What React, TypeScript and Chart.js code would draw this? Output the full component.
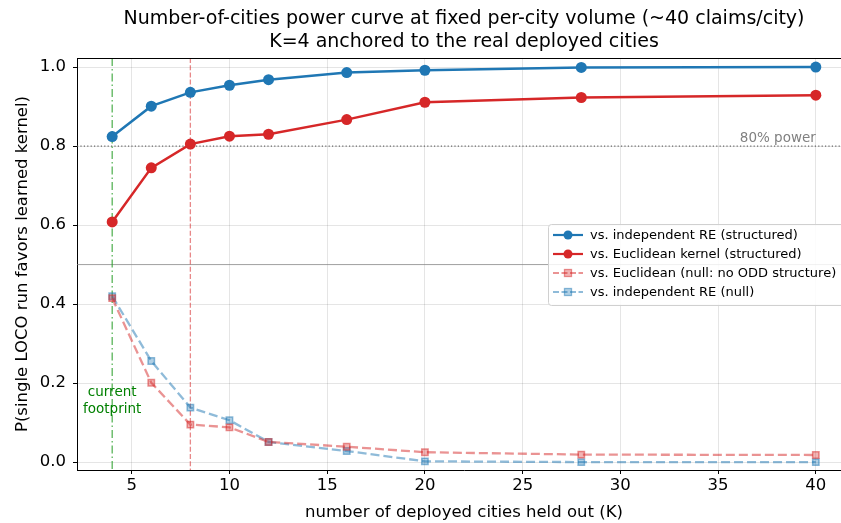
import React, { useEffect, useRef } from "react";
import { Chart, registerables } from "chart.js";

Chart.register(...registerables);

const kValues = [4, 6, 8, 10, 12, 16, 20, 28, 40];
const indepStructured = [0.824, 0.901, 0.936, 0.954, 0.968, 0.986, 0.992, 0.999, 1.0];
const euclidStructured = [0.608, 0.745, 0.805, 0.825, 0.830, 0.867, 0.911, 0.923, 0.929];
const euclidNull = [0.415, 0.201, 0.095, 0.088, 0.051, 0.039, 0.025, 0.019, 0.018];
const indepNull = [0.420, 0.256, 0.138, 0.106, 0.051, 0.028, 0.002, 0.0, 0.0];

const xTicks = [5, 10, 15, 20, 25, 30, 35, 40];
const yTicks = [0.0, 0.2, 0.4, 0.6, 0.8, 1.0];
const yTickLabels = ["0.0", "0.2", "0.4", "0.6", "0.8", "1.0"];

const titleLines = [
  "Number-of-cities power curve at fixed per-city volume (~40 claims/city)",
  "K=4 anchored to the real deployed cities",
];
const legendLabels = [
  "vs. independent RE (structured)",
  "vs. Euclidean kernel (structured)",
  "vs. Euclidean (null: no ODD structure)",
  "vs. independent RE (null)",
];

const BLUE = "#1f77b4";
const RED = "#d62728";
const BLUE_A = "rgba(31,119,180,0.5)";
const RED_A = "rgba(214,39,40,0.5)";
const BLUE_F = "rgba(31,119,180,0.35)";
const RED_F = "rgba(214,39,40,0.35)";
const FONT = "'DejaVu Sans', sans-serif";

const CW = 857;
const CH = 523;

const toPts = (ys: number[]) => kValues.map((x, i) => ({ x, y: ys[i] }));

export default function App() {
  const ref = useRef<HTMLCanvasElement | null>(null);

  useEffect(() => {
    const canvas = ref.current;
    if (!canvas) return;

    const overlay = {
      id: "overlay",
      beforeDatasetsDraw(chart: any) {
        const { ctx, chartArea, scales } = chart;
        const xs = scales.x;
        const ys = scales.y;
        ctx.save();
        ctx.beginPath();
        ctx.rect(chartArea.left, chartArea.top, chartArea.right - chartArea.left, chartArea.bottom - chartArea.top);
        ctx.clip();
        // 0.8 dotted
        ctx.strokeStyle = "rgba(90,90,90,0.9)";
        ctx.lineWidth = 1.2;
        ctx.setLineDash([1.2, 2.2]);
        let y = ys.getPixelForValue(0.8);
        ctx.beginPath();
        ctx.moveTo(chartArea.left, y);
        ctx.lineTo(chartArea.right, y);
        ctx.stroke();
        // 0.5 solid
        ctx.setLineDash([]);
        ctx.lineWidth = 1;
        ctx.strokeStyle = "rgba(128,128,128,0.75)";
        y = ys.getPixelForValue(0.5);
        ctx.beginPath();
        ctx.moveTo(chartArea.left, y);
        ctx.lineTo(chartArea.right, y);
        ctx.stroke();
        // vertical green dashdot at 4
        ctx.strokeStyle = "rgba(44,160,44,0.85)";
        ctx.lineWidth = 1.2;
        ctx.setLineDash([8, 3, 1.5, 3]);
        let x = xs.getPixelForValue(4);
        ctx.beginPath();
        ctx.moveTo(x, chartArea.top);
        ctx.lineTo(x, chartArea.bottom);
        ctx.stroke();
        // vertical red dashed at 8
        ctx.strokeStyle = "rgba(214,39,40,0.55)";
        ctx.lineWidth = 1.3;
        ctx.setLineDash([5, 2.2]);
        x = xs.getPixelForValue(8);
        ctx.beginPath();
        ctx.moveTo(x, chartArea.top);
        ctx.lineTo(x, chartArea.bottom);
        ctx.stroke();
        ctx.setLineDash([]);
        ctx.restore();

        // annotations
        ctx.save();
        ctx.font = `13.5px ${FONT}`;
        ctx.fillStyle = "#808080";
        ctx.textAlign = "right";
        ctx.textBaseline = "bottom";
        ctx.fillText("80% power", xs.getPixelForValue(40), ys.getPixelForValue(0.8) - 1);
        ctx.fillStyle = "green";
        ctx.textAlign = "center";
        ctx.textBaseline = "middle";
        const cx = xs.getPixelForValue(4);
        ctx.fillText("current", cx, ys.getPixelForValue(0.176));
        ctx.fillText("footprint", cx, ys.getPixelForValue(0.133));
        ctx.restore();
      },
      afterDraw(chart: any) {
        const { ctx, chartArea } = chart;
        ctx.save();
        // top spine
        ctx.strokeStyle = "#000";
        ctx.lineWidth = 1;
        ctx.beginPath();
        ctx.moveTo(chartArea.left, chartArea.top + 0.5);
        ctx.lineTo(chartArea.right, chartArea.top + 0.5);
        ctx.stroke();
        ctx.beginPath();
        ctx.moveTo(chartArea.right - 0.5, chartArea.top);
        ctx.lineTo(chartArea.right - 0.5, chartArea.bottom);
        ctx.stroke();

        // title
        ctx.fillStyle = "#000";
        ctx.font = `19px ${FONT}`;
        ctx.textAlign = "center";
        ctx.textBaseline = "middle";
        ctx.fillText(titleLines[0], 464, 19);
        ctx.fillText(titleLines[1], 464, 42);

        // legend
        const lx = 548.5, ly = 224.5, lw = 300, lh = 81;
        ctx.fillStyle = "rgba(255,255,255,0.85)";
        ctx.strokeStyle = "#d0d0d0";
        ctx.beginPath();
        (ctx as any).roundRect(lx, ly, lw, lh, 3);
        ctx.fill();
        ctx.stroke();
        const rows = [235, 254, 273, 292];
        const styles = [
          { c: BLUE, dash: [] as number[], sq: false, f: BLUE },
          { c: RED, dash: [] as number[], sq: false, f: RED },
          { c: RED_A, dash: [6, 2.5], sq: true, f: RED_F },
          { c: BLUE_A, dash: [6, 2.5], sq: true, f: BLUE_F },
        ];
        ctx.font = `13px ${FONT}`;
        ctx.textAlign = "left";
        rows.forEach((ry, i) => {
          const s = styles[i];
          ctx.strokeStyle = s.c;
          ctx.lineWidth = 2.2;
          ctx.setLineDash(s.dash);
          ctx.beginPath();
          ctx.moveTo(553, ry);
          ctx.lineTo(583, ry);
          ctx.stroke();
          ctx.setLineDash([]);
          if (s.sq) {
            ctx.fillStyle = s.f;
            ctx.fillRect(564.5, ry - 3.5, 7, 7);
            ctx.lineWidth = 1.3;
            ctx.strokeStyle = s.c;
            ctx.strokeRect(564.5, ry - 3.5, 7, 7);
          } else {
            ctx.fillStyle = s.c;
            ctx.beginPath();
            ctx.arc(568, ry, 4.5, 0, Math.PI * 2);
            ctx.fill();
          }
          ctx.fillStyle = "#000";
          ctx.textBaseline = "middle";
          ctx.fillText(legendLabels[i], 590, ry + 0.5);
        });
        ctx.restore();
      },
    };

    const chart = new Chart(canvas, {
      type: "line",
      data: {
        datasets: [
          {
            label: legendLabels[0],
            data: toPts(indepStructured),
            borderColor: BLUE,
            backgroundColor: BLUE,
            borderWidth: 2.5,
            pointRadius: 5.5,
            pointHoverRadius: 5.5,
            pointStyle: "circle",
            pointBorderWidth: 0,
          },
          {
            label: legendLabels[1],
            data: toPts(euclidStructured),
            borderColor: RED,
            backgroundColor: RED,
            borderWidth: 2.5,
            pointRadius: 5.5,
            pointHoverRadius: 5.5,
            pointStyle: "circle",
            pointBorderWidth: 0,
          },
          {
            label: legendLabels[2],
            data: toPts(euclidNull),
            borderColor: RED_A,
            backgroundColor: RED_F,
            pointBorderColor: RED_A,
            borderWidth: 2.3,
            borderDash: [9, 4],
            pointRadius: 4.5,
            pointStyle: "rect",
            pointBorderWidth: 1.5,
          },
          {
            label: legendLabels[3],
            data: toPts(indepNull),
            borderColor: BLUE_A,
            backgroundColor: BLUE_F,
            pointBorderColor: BLUE_A,
            borderWidth: 2.3,
            borderDash: [9, 4],
            pointRadius: 4.5,
            pointStyle: "rect",
            pointBorderWidth: 1.5,
          },
        ],
      },
      options: {
        animation: false,
        responsive: false,
        maintainAspectRatio: false,
        layout: { padding: { top: 58, right: 0, left: 0, bottom: 0 } },
        plugins: {
          legend: { display: false },
          title: { display: false },
          tooltip: { enabled: false },
        },
        scales: {
          x: {
            type: "linear",
            min: 2.2,
            max: 41.8,
            afterBuildTicks: (s: any) => {
              s.ticks = xTicks.map((v) => ({ value: v }));
            },
            afterFit: (s: any) => {
              s.height = 53;
              s.paddingRight = 0;
            },
            ticks: {
              color: "#000",
              font: { family: FONT, size: 16.5 },
              padding: 2,
              maxRotation: 0,
              callback: (v: any) => String(v),
            },
            grid: {
              color: "rgba(0,0,0,0.1)",
              tickColor: "#000",
              tickLength: 4,
              drawOnChartArea: true,
            },
            border: { display: true, color: "#000", width: 1 },
            title: {
              display: true,
              text: "number of deployed cities held out (K)",
              color: "#000",
              font: { family: FONT, size: 16.5 },
              padding: { top: 2, bottom: 0 },
            },
          },
          y: {
            type: "linear",
            min: -0.02,
            max: 1.023,
            afterBuildTicks: (s: any) => {
              s.ticks = yTicks.map((v) => ({ value: v }));
            },
            afterFit: (s: any) => {
              s.width = 77;
            },
            ticks: {
              color: "#000",
              font: { family: FONT, size: 16.5 },
              padding: 7,
              callback: (v: any) => {
                const i = yTicks.findIndex((t) => Math.abs(t - v) < 1e-9);
                return i >= 0 ? yTickLabels[i] : "";
              },
            },
            grid: {
              color: "rgba(0,0,0,0.1)",
              tickColor: "#000",
              tickLength: 4,
            },
            border: { display: true, color: "#000", width: 1 },
            title: {
              display: true,
              text: "P(single LOCO run favors learned kernel)",
              color: "#000",
              font: { family: FONT, size: 16.5 },
              padding: { top: 13, bottom: 0 },
            },
          },
        },
      },
      plugins: [overlay],
    } as any);

    return () => chart.destroy();
  }, []);

  return (
    <div style={{ position: "fixed", left: 0, top: 0, width: CW, height: CH, background: "#fff", overflow: "hidden" }}>
      <canvas ref={ref} width={CW} height={CH} style={{ width: CW, height: CH, display: "block" }} />
    </div>
  );
}
